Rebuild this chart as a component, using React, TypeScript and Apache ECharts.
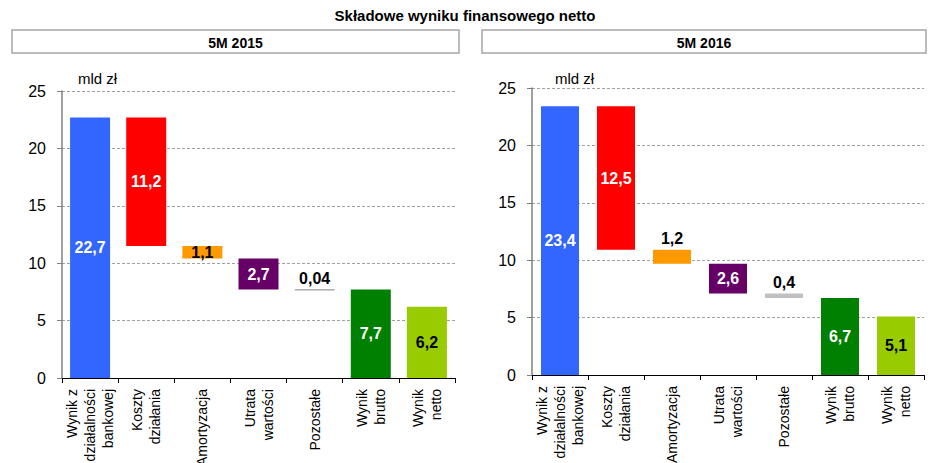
import React, { useEffect, useRef } from "react";
import * as echarts from "echarts";

const categories = [
  "Wynik z\ndziałalności\nbankowej",
  "Koszty\ndziałania",
  "Amortyzacja",
  "Utrata\nwartości",
  "Pozostałe",
  "Wynik\nbrutto",
  "Wynik\nnetto",
];
const kinds = ["total", "decrease", "decrease", "decrease", "decrease", "total", "total"];
const values2015 = [22.7, 11.2, 1.1, 2.7, 0.04, 7.7, 6.2];
const values2016 = [23.4, 12.5, 1.2, 2.6, 0.4, 6.7, 5.1];
const panelTitles = ["5M 2015", "5M 2016"];
const chartTitle = "Składowe wyniku finansowego netto";
const unitLabel = "mld zł";
const yTicks = { min: 0, max: 25, interval: 5 };

const barColors2015 = ["#3366FF", "#FF0000", "#FF9900", "#660066", "#A6A6A6", "#008000", "#99CC00"];
const barColors2016 = ["#3366FF", "#FF0000", "#FF9900", "#660066", "#C0C0C0", "#008000", "#99CC00"];
const labelColors = ["#FFFFFF", "#FFFFFF", "#000000", "#FFFFFF", "#000000", "#FFFFFF", "#000000"];
const labelPos2015 = ["inside", "inside", "inside", "inside", "top", "inside", "inside"];
const labelPos2016 = ["inside", "inside", "top", "inside", "top", "inside", "inside"];

const FONT = "'Liberation Sans', Arial, sans-serif";

function bases(values: number[]) {
  const out: number[] = [];
  let running = 0;
  values.forEach((v, i) => {
    if (kinds[i] === "total") {
      out.push(0);
      running = v;
    } else {
      running = +(running - v).toFixed(4);
      out.push(running);
    }
  });
  return out;
}

function fmt(v: number) {
  return String(v).replace(".", ",");
}

function buildSeries(values: number[], colors: string[], positions: string[], idx: number) {
  const b = bases(values);
  return [
    {
      type: "bar",
      stack: "s" + idx,
      xAxisIndex: idx,
      yAxisIndex: idx,
      barWidth: idx === 0 ? 40 : 38,
      itemStyle: { color: "transparent" },
      emphasis: { disabled: true },
      data: b,
      silent: true,
    },
    {
      type: "bar",
      stack: "s" + idx,
      xAxisIndex: idx,
      yAxisIndex: idx,
      barWidth: idx === 0 ? 40 : 38,
      data: values.map((v, i) => ({
        value: v,
        itemStyle:
          v < 0.1
            ? { color: colors[i], borderColor: colors[i], borderWidth: 1 }
            : { color: colors[i] },
        label: {
          show: true,
          position: positions[i],
          distance: 3,
          color: labelColors[i],
          fontFamily: FONT,
          fontWeight: "bold",
          fontSize: 16,
          formatter: () => fmt(v),
        },
      })),
    },
  ];
}

export default function App() {
  const ref = useRef<HTMLDivElement>(null);
  useEffect(() => {
    if (!ref.current) return;
    const chart = echarts.init(ref.current, undefined, { renderer: "svg" });
    const grids = [
      { left: 62, right: 476, top: 91, bottom: 85, outerBoundsMode: "none", containLabel: false },
      { left: 532, right: 7, top: 88, bottom: 88, outerBoundsMode: "none", containLabel: false },
    ];
    const xAxis = grids.map((_, i) => ({
      type: "category",
      gridIndex: i,
      data: categories,
      axisLine: { lineStyle: { color: "#000", width: 1 } },
      axisTick: { show: true, length: 5, lineStyle: { color: "#000" } },
      axisLabel: {
        rotate: 90,
        interval: 0,
        margin: 11,
        color: "#000",
        fontFamily: FONT,
        fontSize: 14,
        lineHeight: 18,
      },
    }));
    const yAxis = grids.map((_, i) => ({
      type: "value",
      gridIndex: i,
      min: yTicks.min,
      max: yTicks.max,
      interval: yTicks.interval,
      axisLine: { show: true, lineStyle: { color: "#808080", width: 1.5 } },
      axisTick: { show: true, length: 5, lineStyle: { color: "#808080" } },
      axisLabel: { color: "#000", fontFamily: FONT, fontSize: 16, margin: 16 },
      splitLine: { show: true, lineStyle: { color: "#A0A0A0", type: [3, 2], width: 1 } },
    }));
    const headerBoxes = [
      { x: 12, y: 30, w: 447, h: 23 },
      { x: 482, y: 30, w: 444, h: 23 },
    ];
    const graphic: any[] = [
      {
        type: "text",
        x: 465,
        y: 15,
        style: {
          text: chartTitle,
          font: `bold 15px ${FONT}`,
          fill: "#000",
          textAlign: "center",
          textVerticalAlign: "middle",
        },
      },
    ];
    headerBoxes.forEach((b, i) => {
      graphic.push({
        type: "rect",
        shape: { x: b.x, y: b.y, width: b.w, height: b.h },
        style: { fill: "#fff", stroke: "#A6A6A6", lineWidth: 1.5 },
      });
      graphic.push({
        type: "text",
        x: b.x + b.w / 2,
        y: b.y + b.h / 2 + 1,
        style: {
          text: panelTitles[i],
          font: `bold 14px ${FONT}`,
          fill: "#000",
          textAlign: "center",
          textVerticalAlign: "middle",
        },
      });
    });
    [
      { x: 78, y: 78 },
      { x: 555, y: 78 },
    ].forEach((p) => {
      graphic.push({
        type: "text",
        x: p.x,
        y: p.y,
        style: {
          text: unitLabel,
          font: `15px ${FONT}`,
          fill: "#000",
          textAlign: "left",
          textVerticalAlign: "middle",
        },
      });
    });
    chart.setOption({
      animation: false,
      grid: grids,
      xAxis,
      yAxis,
      graphic,
      series: [
        ...buildSeries(values2015, barColors2015, labelPos2015, 0),
        ...buildSeries(values2016, barColors2016, labelPos2016, 1),
      ],
    });
    return () => chart.dispose();
  }, []);
  return (
    <div
      ref={ref}
      style={{ position: "absolute", left: 0, top: 0, width: 931, height: 463, background: "#fff" }}
    />
  );
}
